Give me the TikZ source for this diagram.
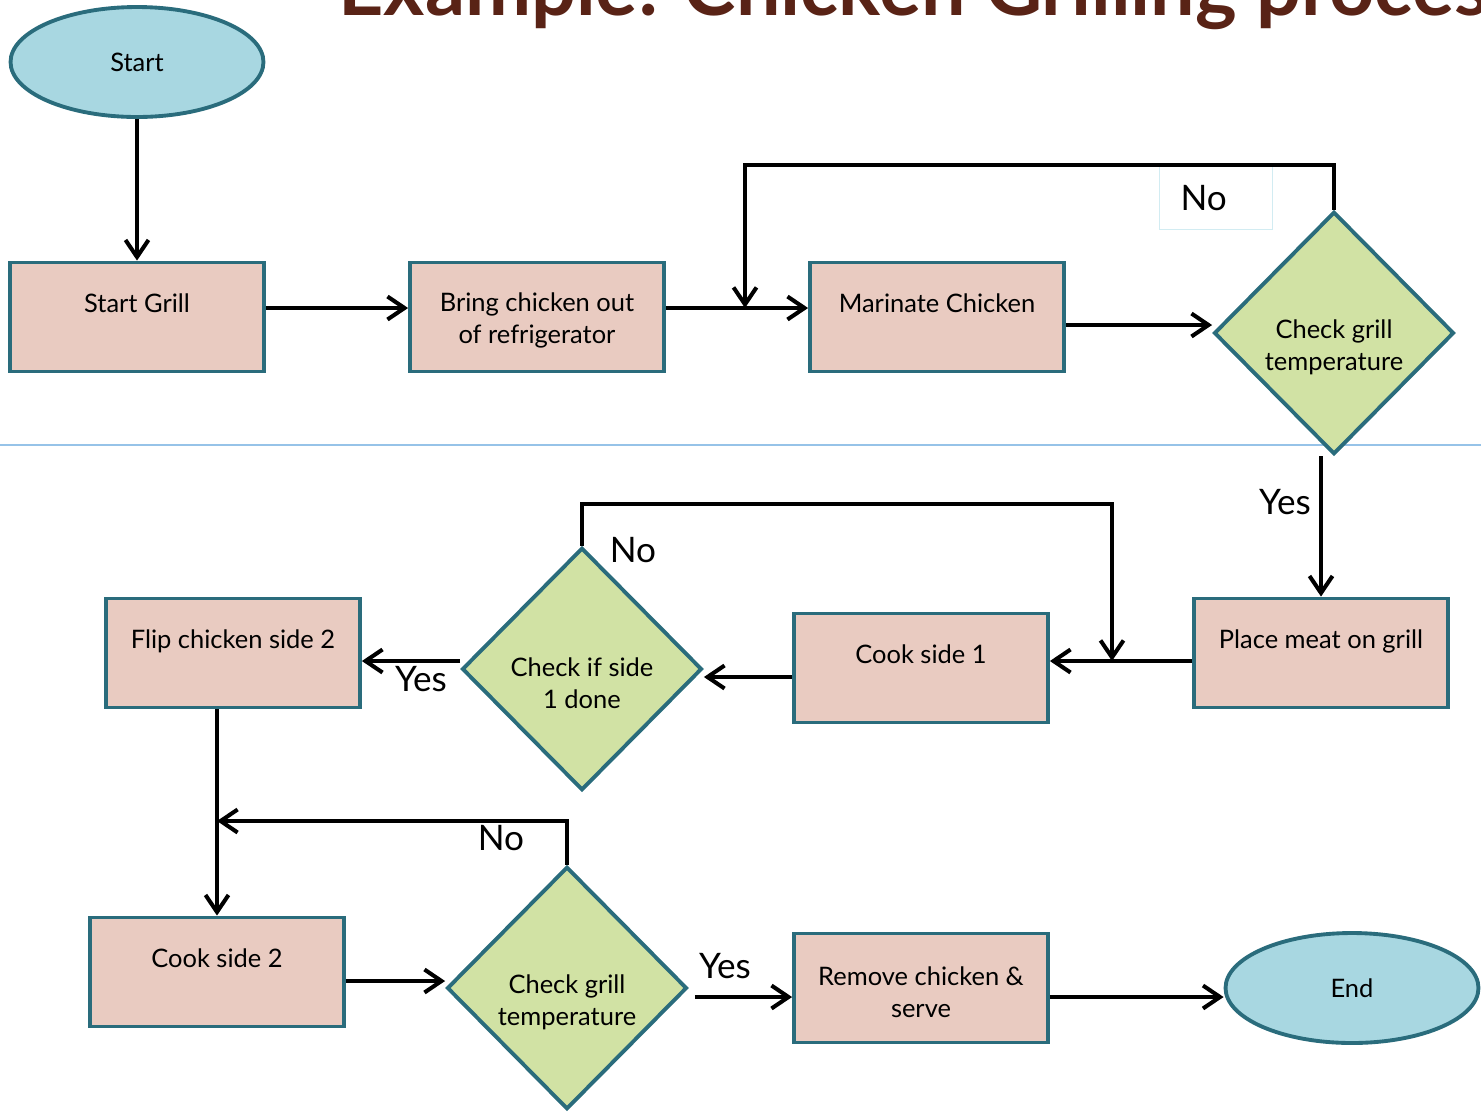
\documentclass[tikz,border=0pt]{standalone}
\usepackage{fontspec}
\usepackage{graphicx}
\setmainfont{Lato}
\usetikzlibrary{shapes.geometric,arrows.meta,calc}

\definecolor{edgec}{RGB}{42,108,124}
\definecolor{procc}{RGB}{233,203,193}
\definecolor{decc}{RGB}{209,226,164}
\definecolor{termc}{RGB}{168,215,225}
\definecolor{titlec}{RGB}{89,35,22}
\definecolor{nobox}{RGB}{210,236,242}
\definecolor{rulec}{RGB}{150,195,232}

\tikzset{
  proc/.style={draw=edgec, fill=procc, line width=2.2pt, minimum width=5.08cm,
    minimum height=2.18cm, align=center, font=\fontsize{14.5}{18.2}\selectfont},
  dec/.style={diamond, draw=edgec, fill=decc, line width=2.2pt, minimum width=4.8cm,
    minimum height=4.85cm, inner sep=0pt},
  dectext/.style={align=center, font=\fontsize{14.5}{18.2}\selectfont, yshift=-0.28cm},
  term/.style={ellipse, draw=edgec, fill=termc, line width=2.2pt, minimum width=5.06cm,
    minimum height=2.2cm, font=\fontsize{14.5}{18.2}\selectfont},
  arr/.style={-{Straight Barb[length=0.34cm,width=0.46cm]}, line width=2.3pt},
  lbl/.style={font=\fontsize{20}{24}\selectfont, inner sep=0pt}
}

\begin{document}
\begin{tikzpicture}[x=0.02cm, y=-0.02cm]
\useasboundingbox (0,0) rectangle (1481,1117);
\clip (0,0) rectangle (1481,1117);

\node[name=title, anchor=base west, text=titlec, inner sep=0pt] at (338,15)
  {\resizebox{23.7cm}{!}{\bfseries Example: Chicken Grilling process}};

\draw[rulec, line width=0.6pt] (0,445) -- (1481,445);

% top row
\node[name=start, term] at (137,62) {Start};
\node[name=grill, proc] at (137,317) {Start Grill\\[-8pt]\strut};
\node[name=bring, proc] at (537,317) {\rule{0pt}{15pt}Bring chicken out\\of refrigerator};
\node[name=marin, proc] at (937,317) {Marinate Chicken\\[-8pt]\strut};
\node[name=chk1, dec, label={[dectext]center:Check grill\\temperature}] at (1334,333) {};

% middle row
\node[name=place, proc] at (1321,653) {Place meat on grill\\[-8pt]\strut};
\node[name=cook1, proc] at (921,668) {Cook side 1\\[-8pt]\strut};
\node[name=chk2, dec, label={[dectext]center:Check if side\\1 done}] at (582,669) {};
\node[name=flip, proc] at (233,653) {Flip chicken side 2\\[-8pt]\strut};

% bottom row
\node[name=cook2, proc] at (217,972) {Cook side 2\\[-8pt]\strut};
\node[name=chk3, dec, label={[dectext]center:Check grill\\temperature}] at (567,988) {};
\node[name=remove, proc] at (921,988) {\rule{0pt}{15pt}Remove chicken \&\\serve};
\node[name=finish, term] at (1352,988) {End};

\coordinate (mjoin) at (745,308);
\coordinate (cjoin) at (1112,661);
\coordinate (fjoin) at (217,821);

\node[name=no1, lbl, draw=nobox, line width=1pt, minimum width=2.26cm, minimum height=1.26cm,
  inner xsep=0.42cm, text width=1.42cm, align=left] at (1216,198) {No};
\node[name=yes1, lbl] at (1285,502) {Yes};
\node[name=no2, lbl] at (633,550) {No};
\node[name=yes2, lbl] at (421,679) {Yes};
\node[name=no3, lbl] at (501,838) {No};
\node[name=yes3, lbl] at (725,966) {Yes};

\draw[arr] (start) -- (grill);
\draw[arr] ($(grill.east)+(0,-9)$) -- ($(bring.west)+(0,-9)$);
\draw[arr] ($(bring.east)+(0,-9)$) -- ($(marin.west)+(0,-9)$);
\draw[arr] ($(marin.east)+(0,8)$) -- ($(chk1.west)+(0,-8)$);
\draw[arr] (chk1.north) -- ++(0,-45) -| (mjoin);
\draw[arr] (chk1.south -| place.north) -- (place.north);
\draw[arr] ($(place.west)+(0,8)$) -- ($(cook1.east)+(0,-7)$);
\draw[arr] (chk2.north) -- ++(0,-42) -| (cjoin);
\draw[arr] ($(cook1.west)+(0,9)$) -- ($(chk2.east)+(0,8)$);
\draw[arr] ($(chk2.west)+(0,-8)$) -- ($(flip.east)+(0,8)$);
\draw[arr] (flip.south -| cook2.north) -- (cook2.north);
\draw[arr] (chk3.north) |- (fjoin);
\draw[arr] ($(cook2.east)+(0,9)$) -- ($(chk3.west)+(0,-7)$);
\draw[arr] ($(chk3.east)+(6,9)$) -- ($(remove.west)+(0,9)$);
\draw[arr] ($(remove.east)+(0,9)$) -- ($(finish.west)+(0,9)$);

\end{tikzpicture}
\end{document}
